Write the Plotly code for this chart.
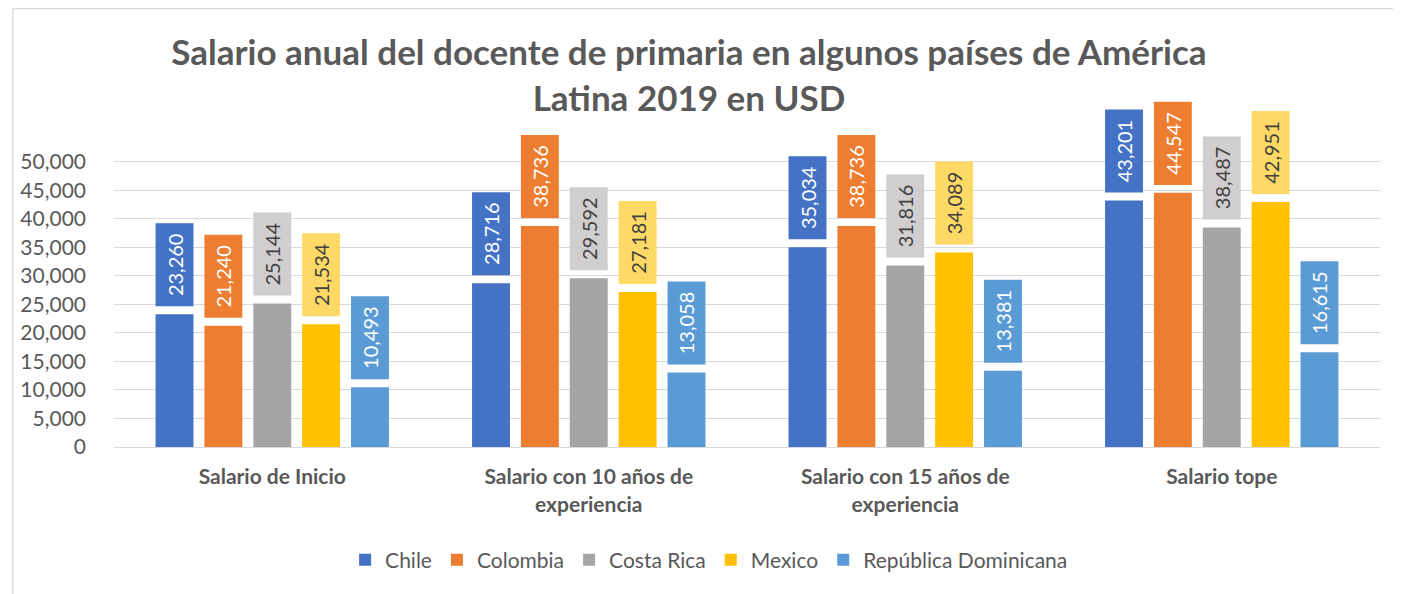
import plotly.graph_objects as go

categories = ["Salario de Inicio", "Salario con 10 años de<br>experiencia",
              "Salario con 15 años de<br>experiencia", "Salario tope"]
countries = ["Chile", "Colombia", "Costa Rica", "Mexico", "República Dominicana"]
chile = [23260, 28716, 35034, 43201]
colombia = [21240, 38736, 38736, 44547]
costa_rica = [25144, 29592, 31816, 38487]
mexico = [21534, 27181, 34089, 42951]
rep_dom = [10493, 13058, 13381, 16615]
series = [chile, colombia, costa_rica, mexico, rep_dom]
y_ticks = [0, 5000, 10000, 15000, 20000, 25000, 30000, 35000, 40000, 45000, 50000]

bar_colors = ["#4472C4", "#ED7D31", "#A5A5A5", "#FFC000", "#5B9BD5"]
box_colors = ["#4472C4", "#ED7D31", "#D0CECE", "#FFD966", "#5B9BD5"]
text_colors = ["#FFFFFF", "#FFFFFF", "#404040", "#404040", "#FFFFFF"]

LABEL_GAP = 1400
LABEL_HEIGHT = 14550
FONT = "Lato"
GRAY = "#595959"

# page has an 8px body margin; figure is sized/offset to compensate
W, H = 1393, 586
L, R, T, B = 102, 21, 91, 147
PW, PH = W - L - R, H - T - B

fig = go.Figure()
for name, vals, bc in zip(countries, series, bar_colors):
    fig.add_trace(go.Bar(x=categories, y=vals, name=name, offsetgroup=name,
                         marker=dict(color=bc, line=dict(width=0)), hoverinfo="y"))
for name, vals, lc, tc in zip(countries, series, box_colors, text_colors):
    fig.add_trace(go.Bar(x=categories, y=[LABEL_HEIGHT] * len(vals),
                         base=[v + LABEL_GAP for v in vals],
                         offsetgroup=name, showlegend=False, hoverinfo="skip",
                         marker=dict(color=lc, line=dict(width=0)),
                         text=[f"{v:,}" for v in vals], textposition="inside",
                         insidetextanchor="middle", textangle=-90,
                         textfont=dict(family=FONT, size=20, color=tc),
                         cliponaxis=False))

fig.update_layout(
    width=W, height=H,
    barmode="group", bargap=0.228, bargroupgap=0.224,
    paper_bgcolor="white", plot_bgcolor="white",
    margin=dict(l=L, r=R, t=T, b=B),
    font=dict(family=FONT, color=GRAY),
    uniformtext=dict(minsize=20, mode="show"),
    title=dict(text="<b>Salario anual del docente de primaria en algunos países de América<br>Latina 2019 en USD</b>",
               x=(689 - 8) / W, xanchor="center", y=1 - (65 - 8) / H, yanchor="middle",
               font=dict(family=FONT, size=35, color=GRAY)),
    legend=dict(orientation="h", x=(707 - 8 - L) / PW, xanchor="center",
                y=(T + PH - (560 - 8)) / PH, yanchor="middle",
                font=dict(family=FONT, size=21, color=GRAY), itemwidth=30,
                traceorder="normal"),
    xaxis=dict(showgrid=False, showline=True, linecolor="#D9D9D9", linewidth=1.3,
               tickfont=dict(family=FONT, size=21, color=GRAY),
               ticks="", ticklabelstandoff=11,
               tickvals=categories, ticktext=[f"<b>{c}</b>" for c in categories]),
    yaxis=dict(range=[0, 61000], tickvals=y_ticks, ticktext=[f"{v:,}" for v in y_ticks],
               showgrid=True, gridcolor="#D9D9D9", gridwidth=1.3, zeroline=False,
               showline=False, tickfont=dict(family=FONT, size=21, color=GRAY),
               ticklabelstandoff=27),
    shapes=[
        dict(type="line", xref="paper", yref="paper",
             x0=(0.5 - L) / PW, x1=(W - L) / PW,
             y0=1 + (T - 0.5) / PH, y1=1 + (T - 0.5) / PH,
             line=dict(color="#D9D9D9", width=1.3)),
        dict(type="line", xref="paper", yref="paper",
             x0=(0.5 - L) / PW, x1=(0.5 - L) / PW,
             y0=1 + (T - 0.5) / PH, y1=-(B / PH),
             line=dict(color="#D9D9D9", width=1.3)),
    ],
)

fig.write_html("out.html")
